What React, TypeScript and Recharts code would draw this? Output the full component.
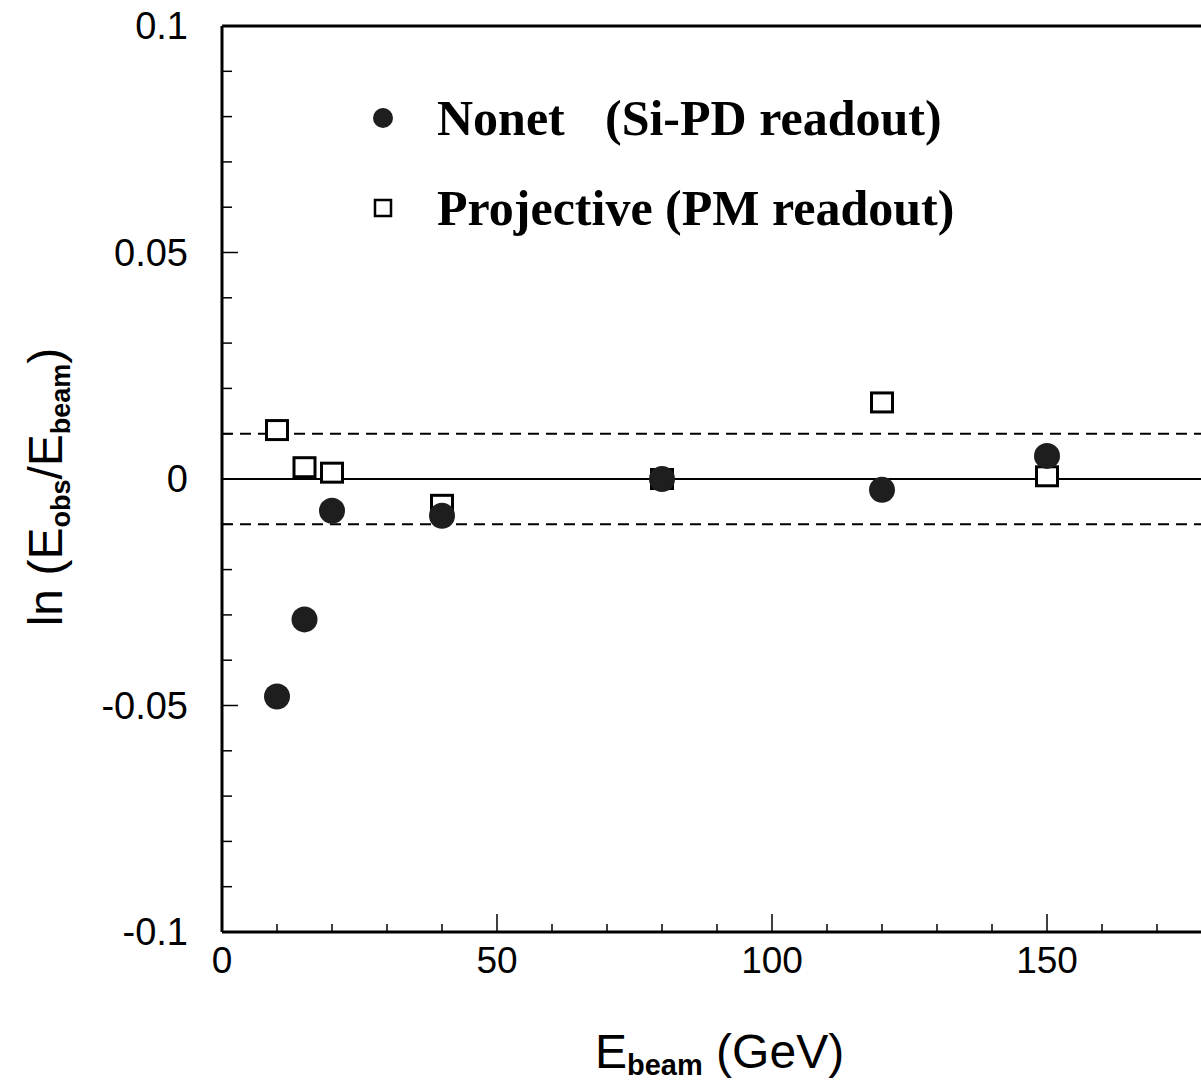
import React from 'react';
import { ScatterChart, Scatter, XAxis, YAxis, ReferenceLine, Customized } from 'recharts';

const energies = [10, 15, 20, 40, 80, 120, 150];
const nonetValues = [-0.048, -0.031, -0.007, -0.0081, 0.0, -0.0024, 0.0051];
const projectiveValues = [0.0108, 0.0026, 0.0014, -0.0057, 0.0, 0.0169, 0.0006];

const xTicks = [0, 10, 20, 30, 40, 50, 60, 70, 80, 90, 100, 110, 120, 130, 140, 150, 160, 170, 180];
const xMajorTicks = [0, 50, 100, 150];
const yTicks = [-0.1, -0.09, -0.08, -0.07, -0.06, -0.05, -0.04, -0.03, -0.02, -0.01, 0, 0.01, 0.02, 0.03, 0.04, 0.05, 0.06, 0.07, 0.08, 0.09, 0.1];
const yMajorTicks = [-0.1, -0.05, 0, 0.05, 0.1];
const yTickLabels = ['-0.1', '-0.05', '0', '0.05', '0.1'];
const bandLimits = [-0.01, 0.01];

const seriesNames = ['Nonet', '(Si-PD readout)', 'Projective (PM readout)'];

const nonetData = energies.map((x, i) => ({ x, y: nonetValues[i] }));
const projectiveData = energies.map((x, i) => ({ x, y: projectiveValues[i] }));

const SANS = '"Liberation Sans", Arial, Helvetica, sans-serif';
const SERIF = '"Liberation Serif", "Times New Roman", serif';

const XTick = (props: any) => {
  const { x, y, payload } = props;
  const major = xMajorTicks.includes(payload.value);
  return (
    <g>
      <line x1={x} x2={x} y1={y} y2={y - (major ? 18 : 8)} stroke="#000" strokeWidth={1.5} />
      {major && (
        <text x={x} y={y + 41} textAnchor="middle" fontSize={37} fontFamily={SANS} fill="#000">
          {payload.value}
        </text>
      )}
    </g>
  );
};

const YTick = (props: any) => {
  const { x, y, payload } = props;
  const idx = yMajorTicks.findIndex((v) => Math.abs(v - payload.value) < 1e-9);
  const major = idx >= 0;
  return (
    <g>
      <line x1={x} x2={x + (major ? 16 : 10)} y1={y} y2={y} stroke="#000" strokeWidth={1.5} />
      {major && (
        <text x={x - 34} y={y + 13} textAnchor="end" fontSize={38} fontFamily={SANS} fill="#000">
          {yTickLabels[idx]}
        </text>
      )}
    </g>
  );
};

const CircleShape = (props: any) => {
  const { cx, cy } = props;
  return <circle cx={cx} cy={cy} r={13} fill="#1e1e1e" />;
};

const SquareShape = (props: any) => {
  const { cx, cy } = props;
  return <rect x={cx - 10.5} y={cy - 9.5} width={21} height={19} fill="#fff" stroke="#000" strokeWidth={3} />;
};

const LegendBlock = () => (
  <g>
    <circle cx={383} cy={118} r={10} fill="#1e1e1e" />
    <text x={437} y={135} fontSize={50} fontWeight="bold" fontFamily={SERIF} fill="#000">{seriesNames[0]}</text>
    <text x={605} y={135} fontSize={50} fontWeight="bold" fontFamily={SERIF} fill="#000">{seriesNames[1]}</text>
    <rect x={375} y={200} width={16} height={16} fill="#fff" stroke="#000" strokeWidth={2.5} />
    <text x={437} y={225} fontSize={50} fontWeight="bold" fontFamily={SERIF} fill="#000">{seriesNames[2]}</text>
  </g>
);

const XLabel = () => (
  <text x={595} y={1068} fontSize={48} fontFamily={SANS} fill="#000">
    E
    <tspan dy={7} fontSize={29} fontWeight="bold">beam</tspan>
    <tspan dy={-7}>{' (GeV)'}</tspan>
  </text>
);

const YLabel = () => (
  <text
    x={62}
    y={487}
    transform="rotate(-90 62 487)"
    textAnchor="middle"
    fontSize={48}
    fontFamily={SANS}
    fill="#000"
  >
    {'ln (E'}
    <tspan dy={8} fontSize={27} fontWeight="bold">obs</tspan>
    <tspan dy={-8}>/E</tspan>
    <tspan dy={8} fontSize={27} fontWeight="bold">beam</tspan>
    <tspan dy={-8}>)</tspan>
  </text>
);

export default function App() {
  return (
    <div style={{ position: 'absolute', left: 0, top: 0, width: 1201, height: 1083, overflow: 'hidden', background: '#fff' }}>
      <ScatterChart width={1260} height={1083} margin={{ top: 26, right: 48, bottom: 51, left: 122 }}>
        <XAxis
          type="number"
          dataKey="x"
          domain={[0, 180]}
          ticks={xTicks}
          interval={0}
          tickSize={0}
          tickMargin={0}
          tickLine={false}
          tick={<XTick />}
          axisLine={{ stroke: '#000', strokeWidth: 3 }}
          height={100}
        />
        <YAxis
          type="number"
          dataKey="y"
          domain={[-0.1, 0.1]}
          ticks={yTicks}
          interval={0}
          tickSize={0}
          tickMargin={0}
          tickLine={false}
          tick={<YTick />}
          axisLine={{ stroke: '#000', strokeWidth: 3 }}
          width={100}
        />
        <ReferenceLine y={0.1} stroke="#000" strokeWidth={3} />
        <ReferenceLine y={0} stroke="#000" strokeWidth={2} />
        {bandLimits.map((v) => (
          <ReferenceLine key={v} y={v} stroke="#000" strokeWidth={2} strokeDasharray="11 7" />
        ))}
        <Scatter name="Projective" data={projectiveData} shape={<SquareShape />} isAnimationActive={false} />
        <Scatter name="Nonet" data={nonetData} shape={<CircleShape />} isAnimationActive={false} />
        <Customized component={LegendBlock} />
        <Customized component={XLabel} />
        <Customized component={YLabel} />
      </ScatterChart>
    </div>
  );
}
